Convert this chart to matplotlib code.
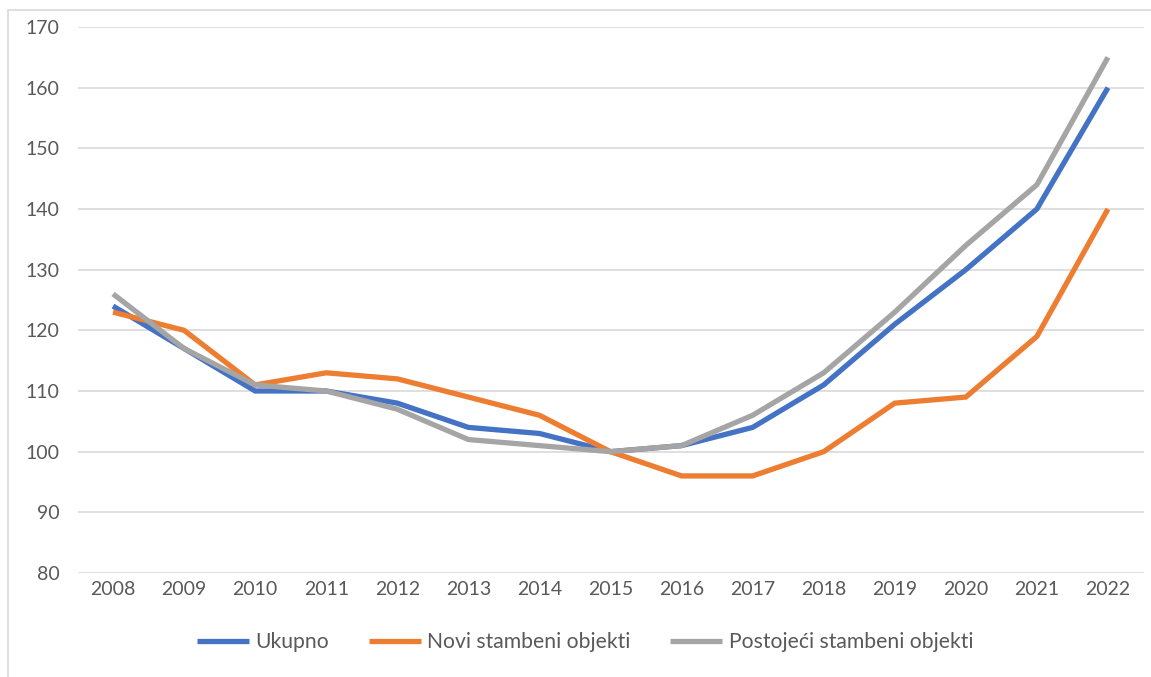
import matplotlib.pyplot as plt
from matplotlib.patches import Rectangle

years = [2008, 2009, 2010, 2011, 2012, 2013, 2014, 2015,
         2016, 2017, 2018, 2019, 2020, 2021, 2022]
ukupno = [124, 117, 110, 110, 108, 104, 103, 100, 101, 104, 111, 121, 130, 140, 160]
novi = [123, 120, 111, 113, 112, 109, 106, 100, 96, 96, 100, 108, 109, 119, 140]
postojeci = [126, 117, 111, 110, 107, 102, 101, 100, 101, 106, 113, 123, 134, 144, 165]

labels = ["Ukupno", "Novi stambeni objekti", "Postojeći stambeni objekti"]
colours = ["#4472C4", "#ED7D31", "#A5A5A5"]

plt.rcParams['font.family'] = ['Lato', 'DejaVu Sans']

fig = plt.figure(figsize=(11.51, 6.77), dpi=100)
ax = fig.add_axes([77.5 / 1151, 1 - 573 / 677, 1066 / 1151, 546 / 677])

# outer chart frame
fig.patches.append(Rectangle((8 / 1151, -0.05), 1.2, 1.05 - 10 / 677,
                             transform=fig.transFigure, fill=False,
                             edgecolor='#D9D9D9', linewidth=1.2))

x = range(len(years))
for series, lab, col in zip([ukupno, novi, postojeci], labels, colours):
    ax.plot(x, series, color=col, linewidth=3.8, label=lab,
            solid_joinstyle='miter', solid_capstyle='butt')

ax.set_xlim(-0.5, len(years) - 0.5)
ax.set_ylim(80, 170)
ax.set_yticks(range(80, 171, 10))
ax.set_xticks(list(x))
ax.set_xticklabels([str(y) for y in years])
ax.grid(axis='y', color='#D9D9D9', linewidth=1.2)
ax.set_axisbelow(True)
for s in ax.spines.values():
    s.set_visible(False)
ax.tick_params(length=0, labelsize=14, colors='#595959', pad=6)
ax.tick_params(axis='y', pad=13)

ax.legend(loc='center', bbox_to_anchor=(585 / 1151, 1 - 642 / 677),
          bbox_transform=fig.transFigure, ncol=3, frameon=False,
          fontsize=15.2, handlelength=2.45, columnspacing=1.9,
          labelcolor='#595959', handletextpad=0.3)

fig.savefig("out.png", dpi=100)
